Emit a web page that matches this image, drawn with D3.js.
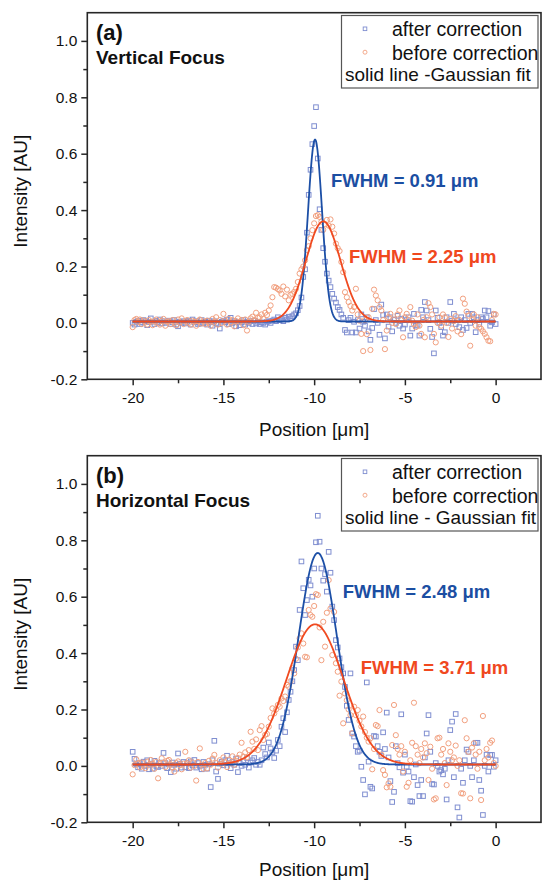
<!DOCTYPE html>
<html><head><meta charset="utf-8">
<script src="https://cdn.jsdelivr.net/npm/d3@7/dist/d3.min.js"></script>
<style>body{margin:0;background:#fff}svg{display:block}</style>
</head><body>
<svg id="c" width="542" height="880"></svg>
<script>
// ---------- DATA ----------
// scan positions (µm): -20.0 ... 0.0 in 0.1 µm steps
const positionStart = -20, positionStep = 0.1, positionCount = 201;

// Panel (a) Vertical focus
const aAfter = [
 0.000,-0.006,0.004,0.008,-0.004,0.002,0.010,0.006,-0.008,0.003,
 0.016,0.004,-0.004,0.008,0.002,0.012,-0.002,0.006,0.000,0.004,
 0.008,-0.004,0.002,0.010,-0.006,-0.012,0.004,0.000,0.006,-0.002,
 0.004,0.008,-0.006,0.012,0.002,0.006,-0.004,0.000,0.010,-0.002,
 0.004,-0.006,0.008,0.002,-0.010,0.006,0.000,-0.004,-0.020,0.004,
 0.008,0.002,0.012,-0.004,0.018,0.000,0.006,-0.012,0.004,-0.008,
 0.002,0.010,-0.006,0.004,0.000,0.006,-0.004,0.008,-0.002,0.004,
 -0.004,0.002,0.000,-0.006,0.004,0.006,0.000,0.008,0.012,0.006,
 0.020,0.010,0.014,0.006,0.018,0.012,0.022,0.016,0.024,0.030,
 0.034,0.045,0.060,0.090,0.163,0.190,0.320,0.454,0.543,0.634,
 0.698,0.765,0.583,0.403,0.330,0.265,0.217,0.175,0.150,0.127,
 0.103,0.086,0.072,0.056,0.046,0.030,0.018,-0.025,-0.034,0.010,
 0.018,-0.034,0.004,-0.034,0.010,-0.020,0.030,0.004,-0.010,0.020,
 -0.030,-0.060,-0.018,0.049,0.010,0.000,-0.042,0.065,0.028,-0.055,
 0.030,-0.013,0.020,-0.030,0.011,0.000,0.025,-0.010,0.015,-0.020,
 -0.006,0.010,0.020,-0.045,-0.020,0.032,-0.010,-0.007,-0.045,0.046,
 0.020,0.074,0.044,0.010,-0.021,-0.050,-0.108,0.044,0.018,0.000,
 -0.015,-0.045,-0.033,0.020,0.000,0.074,0.008,0.032,-0.004,0.010,
 -0.015,0.020,-0.025,0.010,-0.018,0.032,0.000,0.032,0.020,-0.033,
 0.010,-0.004,0.020,0.014,0.044,0.020,0.042,-0.010,0.002,0.030,
 -0.004];
const aBefore = [
 -0.015,0.010,0.014,0.004,0.012,-0.004,0.008,0.002,-0.006,0.010,
 0.004,-0.008,0.006,0.012,0.000,-0.006,0.008,0.014,-0.010,0.004,
 0.006,-0.004,0.010,0.000,-0.008,0.012,0.002,0.016,-0.004,0.006,
 0.010,0.000,-0.006,0.008,0.004,-0.010,0.006,0.012,-0.002,0.006,
 -0.004,0.008,0.000,-0.010,0.014,0.004,0.020,-0.006,0.010,0.000,
 0.032,0.008,-0.006,0.014,0.002,0.010,-0.012,0.006,0.016,0.004,
 0.010,-0.008,0.012,-0.027,0.004,0.016,0.022,0.010,0.036,0.018,
 0.020,0.030,0.014,0.036,0.028,0.044,0.062,0.091,0.127,0.125,
 0.120,0.115,0.103,0.129,0.094,0.118,0.080,0.100,0.103,0.110,
 0.121,0.145,0.175,0.190,0.200,0.222,0.258,0.272,0.300,0.329,
 0.353,0.379,0.382,0.376,0.359,0.330,0.350,0.365,0.345,0.367,
 0.341,0.317,0.281,0.265,0.255,0.216,0.180,0.109,0.091,0.074,
 0.060,0.044,0.056,0.121,0.030,0.008,-0.039,-0.100,0.010,-0.040,
 0.020,-0.096,0.050,0.118,0.097,0.080,0.056,0.044,0.010,-0.093,
 -0.027,0.020,0.032,0.000,0.012,-0.004,0.030,0.044,0.010,-0.051,
 0.020,0.032,0.010,0.056,0.008,-0.004,-0.015,0.030,-0.010,-0.039,
 0.010,-0.051,0.020,0.070,0.056,0.030,-0.039,-0.069,0.000,0.020,
 -0.010,0.030,0.020,0.000,-0.050,0.014,-0.020,0.006,0.024,-0.030,
 0.010,-0.040,0.086,0.068,0.040,0.026,-0.081,0.010,0.030,-0.010,
 0.020,-0.015,-0.021,-0.030,-0.039,-0.051,-0.063,-0.065,0.010,0.032,
 0.030];

// Panel (b) Horizontal focus
const bAfter = [
 0.050,0.025,0.005,-0.005,0.010,-0.010,0.015,0.000,0.020,-0.012,
 0.008,-0.010,0.018,0.000,-0.004,0.012,0.000,0.046,0.010,-0.008,
 0.005,-0.022,0.012,0.004,-0.010,0.044,0.008,-0.006,0.014,-0.005,
 0.010,-0.008,0.016,0.002,0.021,-0.006,0.010,0.000,-0.012,0.014,
 0.004,-0.010,0.006,-0.075,0.020,0.089,-0.020,-0.046,0.008,0.014,
 0.002,0.020,0.036,0.010,-0.008,0.014,0.004,0.026,-0.022,0.010,
 0.000,0.018,0.004,0.028,-0.006,0.012,0.020,0.028,0.004,0.014,
 0.004,0.020,0.065,0.042,0.030,0.083,0.062,0.048,0.028,0.054,
 0.092,0.070,0.139,0.169,0.120,0.190,0.234,0.263,0.300,0.340,
 0.423,0.375,0.553,0.725,0.630,0.535,0.588,0.660,0.640,0.600,
 0.700,0.793,0.887,0.795,0.700,0.657,0.680,0.618,0.759,0.685,
 0.565,0.517,0.446,0.420,0.381,0.350,0.328,0.280,0.213,0.163,
 0.328,0.115,0.104,0.070,0.050,0.054,-0.003,-0.050,-0.101,0.296,
 0.015,-0.074,-0.080,0.106,0.104,0.070,0.050,0.035,0.119,0.060,
 0.189,0.030,-0.054,-0.128,-0.092,0.070,0.010,-0.005,0.183,-0.024,
 0.040,-0.003,-0.020,-0.125,-0.127,-0.040,0.005,-0.068,-0.107,-0.050,
 -0.107,0.030,0.115,0.180,0.050,-0.064,-0.066,0.010,0.000,-0.020,
 -0.015,-0.030,-0.010,-0.119,0.020,0.127,0.157,-0.040,0.184,-0.147,
 -0.183,-0.010,-0.060,0.020,0.058,0.050,0.000,-0.040,0.020,0.082,
 0.082,-0.050,-0.088,-0.174,0.000,0.040,-0.020,0.039,0.039,-0.003,
 0.020];
const bBefore = [
 -0.030,0.003,0.023,0.010,-0.005,0.012,0.000,-0.008,0.015,0.004,
 0.021,0.008,-0.010,0.014,-0.044,0.006,0.027,0.012,-0.004,0.018,
 0.021,0.004,-0.006,-0.020,0.010,0.016,0.002,-0.012,0.008,0.050,
 0.010,0.020,-0.006,0.012,0.000,-0.052,0.014,0.062,0.004,-0.010,
 0.010,-0.009,0.018,0.004,0.026,0.039,0.010,-0.006,0.020,0.008,
 0.030,0.012,-0.004,0.022,0.010,0.034,0.004,0.018,0.028,0.040,
 0.082,0.033,0.048,0.030,0.056,0.121,0.086,0.060,0.094,0.056,
 0.127,0.141,0.092,0.110,0.113,0.139,0.170,0.204,0.186,0.200,
 0.216,0.210,0.239,0.230,0.246,0.287,0.281,0.300,0.346,0.328,
 0.380,0.420,0.452,0.470,0.434,0.387,0.385,0.553,0.535,0.529,
 0.567,0.609,0.606,0.491,0.375,0.511,0.423,0.543,0.659,0.558,
 0.393,0.546,0.364,0.334,0.249,0.299,0.151,0.257,0.233,0.200,
 0.180,0.116,0.210,0.180,0.198,0.160,0.140,0.175,0.120,0.100,
 0.086,0.098,-0.012,0.060,0.145,0.141,0.198,0.040,-0.015,-0.032,
 -0.076,-0.062,-0.074,0.074,0.216,0.109,0.060,0.040,0.070,-0.020,
 0.050,-0.074,-0.060,0.020,0.082,0.224,0.070,0.040,0.010,0.060,
 0.030,0.080,0.045,-0.050,0.068,-0.010,-0.119,-0.115,0.098,0.100,
 0.040,0.060,0.010,-0.068,0.080,0.050,0.020,0.030,0.072,0.000,
 0.020,-0.097,-0.098,0.162,0.098,0.050,-0.115,0.065,0.080,0.040,
 -0.010,0.050,-0.121,0.177,0.020,0.060,0.030,0.082,0.090,0.010,
 0.000];

// Gaussian fit parameters [after, before]
const fitCenterA = [-9.95, -9.5];
const fitPeakA   = [0.645, 0.355];
const fitFwhmA   = [0.91, 2.25];
const fitCenterB = [-9.8, -9.95];
const fitPeakB   = [0.75, 0.497];
const fitFwhmB   = [2.48, 3.71];
const fitOffset  = 0.005;

const panelLetters = ["(a)", "(b)"];
const panelTitles = ["Vertical Focus", "Horizontal Focus"];
const fwhmLabelsA = ["FWHM = 0.91 \u03bcm", "FWHM = 2.25 \u03bcm"];
const fwhmLabelsB = ["FWHM = 2.48 \u03bcm", "FWHM = 3.71 \u03bcm"];
const legendRows = ["after correction", "before correction"];
const legendFitRows = ["solid line -Gaussian fit", "solid line - Gaussian fit"];

const xMajorTicks = [-20, -15, -10, -5, 0];
const xTickLabels = ["-20", "-15", "-10", "-5", "0"];
const xMinorTicks = [-17.5, -12.5, -7.5, -2.5];
const yMajorTicks = [-0.2, 0, 0.2, 0.4, 0.6, 0.8, 1.0];
const yTickLabels = ["-0.2", "0.0", "0.2", "0.4", "0.6", "0.8", "1.0"];
const yMinorTicks = [-0.1, 0.1, 0.3, 0.5, 0.7, 0.9];
const xTitle = "Position [\u03bcm]";
const yTitle = "Intensity [AU]";

// ---------- STYLE ----------
const FONT = "'Liberation Sans', Arial, Helvetica, sans-serif";
const C = {
  blueLine: "#1c4fa6", orangeLine: "#f04a20",
  blueMark: "#7f8ed0", orangeMark: "#f2a07f",
  blueText: "#1b4ea2", orangeText: "#f0481e", axis: "#262626"
};
const X0 = 87.3, X1 = 541, PH = 366.6;
const panelTop = [12.7, 455.7];
const xTitleOffset = [57, 53.5];

const svg = d3.select("#c");
const positions = d3.range(positionCount).map(i => +(positionStart + i * positionStep).toFixed(2));

function gauss(x, c, peak, fwhm) {
  return fitOffset + peak * Math.exp(-4 * Math.LN2 * (x - c) * (x - c) / (fwhm * fwhm));
}

function drawPanel(i, after, before, centers, peaks, fwhms, fwhmLabels, fwhmPos) {
  const top = panelTop[i];
  const x = d3.scaleLinear().domain([-22.5, 2.5]).range([X0, X1]);
  const y = d3.scaleLinear().domain([-0.2, 1.1]).range([top + PH, top]);
  const g = svg.append("g");

  // axes
  const ax = g.append("g").attr("transform", `translate(0,${top + PH})`)
    .call(d3.axisBottom(x).tickValues(xMajorTicks).tickSize(6).tickFormat((d, k) => xTickLabels[k]));
  ax.select(".domain").remove();
  ax.selectAll("line").attr("stroke", C.axis).attr("stroke-width", 1.5);
  ax.selectAll("text").attr("y", 24).attr("dy", null).attr("fill", "#111")
    .style("font-family", FONT).style("font-size", "15.5px");
  const axm = g.append("g").attr("transform", `translate(0,${top + PH})`)
    .call(d3.axisBottom(x).tickValues(xMinorTicks).tickSize(4).tickFormat(""));
  axm.select(".domain").remove();
  axm.selectAll("line").attr("stroke", C.axis).attr("stroke-width", 1.5);

  const ay = g.append("g").attr("transform", `translate(${X0},0)`)
    .call(d3.axisLeft(y).tickValues(yMajorTicks).tickSize(6).tickPadding(4)
      .tickFormat((d, k) => yTickLabels[k]));
  ay.select(".domain").remove();
  ay.selectAll("line").attr("stroke", C.axis).attr("stroke-width", 1.5);
  ay.selectAll("text").attr("fill", "#111").style("font-family", FONT).style("font-size", "15.5px");
  const aym = g.append("g").attr("transform", `translate(${X0},0)`)
    .call(d3.axisLeft(y).tickValues(yMinorTicks).tickSize(4).tickFormat(""));
  aym.select(".domain").remove();
  aym.selectAll("line").attr("stroke", C.axis).attr("stroke-width", 1.5);

  // frame
  g.append("rect").attr("x", X0).attr("y", top).attr("width", X1 - X0).attr("height", PH)
    .attr("fill", "none").attr("stroke", C.axis).attr("stroke-width", 1.6);

  // scatter
  const sq = 4.6;
  g.append("g").selectAll("rect").data(after).join("rect")
    .attr("x", (d, k) => x(positions[k]) - sq / 2).attr("y", d => y(d) - sq / 2)
    .attr("width", sq).attr("height", sq)
    .attr("fill", "none").attr("stroke", C.blueMark).attr("stroke-width", 1);
  g.append("g").selectAll("circle").data(before).join("circle")
    .attr("cx", (d, k) => x(positions[k])).attr("cy", d => y(d)).attr("r", 2.6)
    .attr("fill", "none").attr("stroke", C.orangeMark).attr("stroke-width", 1);

  // Gaussian fits
  const grid = d3.range(0, 1001).map(k => -20 + k * 0.02);
  const line = d3.line().x(d => x(d[0])).y(d => y(d[1]));
  [C.blueLine, C.orangeLine].forEach((col, s) => {
    g.append("path")
      .attr("d", line(grid.map(v => [v, gauss(v, centers[s], peaks[s], fwhms[s])])))
      .attr("fill", "none").attr("stroke", col).attr("stroke-width", 1.8);
  });

  // FWHM labels
  [C.blueText, C.orangeText].forEach((col, s) => {
    g.append("text").attr("x", fwhmPos[s][0]).attr("y", top + fwhmPos[s][1])
      .attr("fill", col).style("font-family", FONT).style("font-size", "18.5px")
      .style("font-weight", "bold").text(fwhmLabels[s]);
  });

  // panel letter and title
  g.append("text").attr("x", 96).attr("y", top + 27.5).style("font-family", FONT)
    .style("font-size", "22px").style("font-weight", "bold").attr("fill", "#111").text(panelLetters[i]);
  g.append("text").attr("x", 96).attr("y", top + 51.3).style("font-family", FONT)
    .style("font-size", "19px").style("font-weight", "bold").attr("fill", "#111").text(panelTitles[i]);

  // legend
  const lg = g.append("g");
  lg.append("rect").attr("x", 341.5).attr("y", top + 2.8).attr("width", 196.5).attr("height", 72.5)
    .attr("fill", "#fff").attr("stroke", "#555").attr("stroke-width", 1.2);
  lg.append("rect").attr("x", 365 - 1.8).attr("y", top + 16.1 - 1.8).attr("width", 3.6).attr("height", 3.6)
    .attr("fill", "none").attr("stroke", C.blueMark).attr("stroke-width", 0.9);
  lg.append("circle").attr("cx", 365).attr("cy", top + 39.5).attr("r", 2)
    .attr("fill", "none").attr("stroke", C.orangeMark).attr("stroke-width", 0.9);
  legendRows.forEach((t, k) => {
    lg.append("text").attr("x", 392).attr("y", top + 23.3 + k * 23.5)
      .style("font-family", FONT).style("font-size", "19.5px").attr("fill", "#111").text(t);
  });
  lg.append("text").attr("x", 345).attr("y", top + 68.3)
    .style("font-family", FONT).style("font-size", "19px").attr("fill", "#111").text(legendFitRows[i]);

  // axis titles
  g.append("text").attr("x", (X0 + X1) / 2).attr("y", top + PH + xTitleOffset[i]).attr("text-anchor", "middle")
    .style("font-family", FONT).style("font-size", "19px").attr("fill", "#111").text(xTitle);
  g.append("text").attr("transform", `translate(26.5,${top + 178.5}) rotate(-90)`).attr("text-anchor", "middle")
    .style("font-family", FONT).style("font-size", "19px").attr("fill", "#111").text(yTitle);
}

drawPanel(0, aAfter, aBefore, fitCenterA, fitPeakA, fitFwhmA, fwhmLabelsA, [[331, 174.3], [349, 250.3]]);
drawPanel(1, bAfter, bBefore, fitCenterB, fitPeakB, fitFwhmB, fwhmLabelsB, [[342.7, 142.6], [360.7, 218.6]]);
</script>
</body></html>
